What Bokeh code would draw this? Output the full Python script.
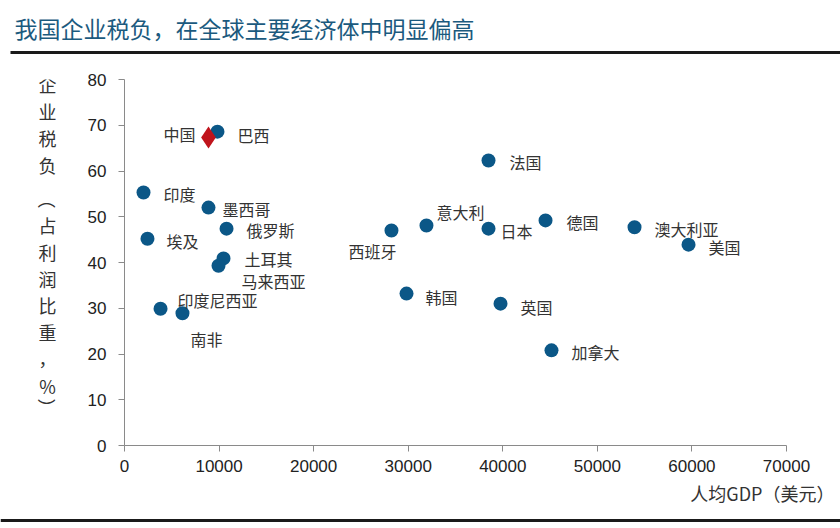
from bokeh.plotting import figure
from bokeh.layouts import column, row
from bokeh.models import Range1d, FixedTicker, Label, ColumnDataSource, BasicTickFormatter
from bokeh.core.properties import value
from bokeh.embed import file_html
from bokeh.resources import INLINE
import math

# ---- data ----
countries = ["巴西", "印度", "墨西哥", "俄罗斯", "埃及", "土耳其", "马来西亚", "印度尼西亚", "南非",
             "法国", "意大利", "西班牙", "日本", "德国", "澳大利亚", "美国", "韩国", "英国", "加拿大"]
gdp = [9830, 2010, 8880, 10790, 2430, 10470, 9940, 3810, 6130,
       38490, 31930, 28230, 38490, 44520, 53930, 59640, 29820, 39760, 45150]
tax = [68.6, 55.3, 52.0, 47.4, 45.2, 40.9, 39.3, 29.9, 28.9,
       62.3, 48.1, 47.0, 47.4, 49.2, 47.7, 43.9, 33.2, 31.0, 20.8]
china_name = ["中国"]
china_gdp = [8880]
china_tax = [67.3]
x_ticks = [0, 10000, 20000, 30000, 40000, 50000, 60000, 70000]
y_ticks = [0, 10, 20, 30, 40, 50, 60, 70, 80]
title_text = "我国企业税负，在全球主要经济体中明显偏高"
ylabel_chars = ["企", "业", "税", "负", "（", "占", "利", "润", "比", "重", "，", "%", "）"]
xlabel_text = "人均GDP（美元）"

# label offsets (style)
label_dx = [20, 20, 14, 20, 19, 21, 23, 17, 8, 21, 10, -43, 12, 21, 20, 20, 19, 20, 20]
label_dy = [3, 1, 1, 1, 2, 1, 15, -9, 26, 2, -13, 21, 2, 2, 2, 2, 3, 3, 2]
ylabel_pos = [83, 110, 137, 164, 199, 224, 251, 278, 304, 331, 357, 385, 407]

FONT = "Noto Sans CJK SC"
TOTAL_W, TOTAL_H = 840, 528
HEAD_H = 56
FOOT_TOP = 480
MAIN_H = FOOT_TOP - HEAD_H
FOOT_H = TOTAL_H - FOOT_TOP
LEFT_W = 70
FR_TOP, FR_BOT, FR_LEFT, FR_RIGHT = 79, 445, 124, 786


def blank(w, h, xr, yr, **kw):
    f = figure(width=w, height=h, output_backend="svg", toolbar_location=None,
               x_range=xr, y_range=yr, **kw)
    f.axis.visible = False
    f.grid.visible = False
    f.outline_line_color = None
    return f


# ---- header ----
head = blank(TOTAL_W, HEAD_H, Range1d(0, TOTAL_W), Range1d(HEAD_H, 0), min_border=0)
head.add_layout(Label(x=14, y=27, text=title_text, text_font=FONT, text_font_size="23px",
                      text_color="#1b5a7e", text_baseline="middle", text_align="left"))
head.line([10, TOTAL_W], [52, 52], line_color="#1a1a1a", line_width=3)

# ---- left label column (frame aligned with the main chart frame) ----
left = blank(LEFT_W, MAIN_H, Range1d(0, LEFT_W), Range1d(FR_BOT, FR_TOP),
             min_border_left=0, min_border_right=0,
             min_border_top=FR_TOP - HEAD_H, min_border_bottom=FOOT_TOP - FR_BOT)
for ch, cy in zip(ylabel_chars, ylabel_pos):
    ang = -math.pi / 2 if ch in ("（", "）") else 0
    left.add_layout(Label(x=47, y=cy, text=ch, text_font=FONT, text_font_size="18px",
                          text_color="#333333", angle=ang,
                          text_align="center", text_baseline="middle"))

# ---- main chart ----
MW = TOTAL_W - LEFT_W
p = figure(width=MW, height=MAIN_H, output_backend="svg", toolbar_location=None,
           x_range=Range1d(x_ticks[0], x_ticks[-1]), y_range=Range1d(y_ticks[0], y_ticks[-1]),
           min_border_left=FR_LEFT - LEFT_W, min_border_right=TOTAL_W - FR_RIGHT,
           min_border_top=FR_TOP - HEAD_H, min_border_bottom=FOOT_TOP - FR_BOT)
p.outline_line_color = None
p.xgrid.grid_line_color = None
p.ygrid.grid_line_color = None

for ax in (p.xaxis[0], p.yaxis[0]):
    ax.axis_line_color = "#8a8a8a"
    ax.major_tick_line_color = "#8a8a8a"
    ax.minor_tick_line_color = None
    ax.major_tick_out = 6
    ax.major_tick_in = 0
    ax.major_label_text_font = "Liberation Sans"
    ax.major_label_text_font_size = "17px"
    ax.major_label_text_color = "#222222"
p.xaxis[0].ticker = FixedTicker(ticks=x_ticks)
p.yaxis[0].ticker = FixedTicker(ticks=y_ticks)
p.xaxis[0].formatter = BasicTickFormatter(use_scientific=False)
p.xaxis[0].major_label_standoff = 8
p.yaxis[0].major_label_standoff = 12

src = ColumnDataSource(dict(x=gdp, y=tax, name=countries, dx=label_dx, dy=label_dy))
p.scatter("x", "y", source=src, size=14, color="#0b5787", line_color=None)
p.text("x", "y", text="name", source=src, x_offset="dx", y_offset="dy",
       text_align="left", text_baseline="middle", text_font=value(FONT),
       text_font_size="16px", text_color="#333333")

csrc = ColumnDataSource(dict(x=china_gdp, y=china_tax, name=china_name))
p.scatter("x", "y", source=csrc, marker="diamond", size=22, color="#c0141c", line_color=None)
p.text("x", "y", text="name", source=csrc, x_offset=-13, y_offset=-4,
       text_align="right", text_baseline="middle", text_font=value(FONT),
       text_font_size="16px", text_color="#333333")

# ---- footer: x-axis title and bottom rule ----
foot = blank(TOTAL_W, FOOT_H, Range1d(0, TOTAL_W), Range1d(TOTAL_H, FOOT_TOP), min_border=0)
foot.add_layout(Label(x=834, y=492, text=xlabel_text, text_font=FONT, text_font_size="18px",
                      text_color="#333333", text_align="right", text_baseline="middle"))
foot.line([0, TOTAL_W], [520, 520], line_color="#1a1a1a", line_width=3)

layout = column(head, row(left, p), foot, spacing=0)
open("out.html", "w").write(file_html(layout, INLINE))
